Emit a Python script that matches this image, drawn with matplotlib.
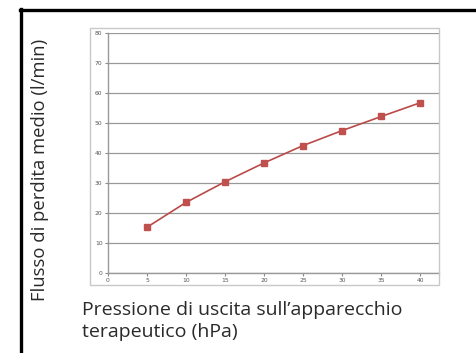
import matplotlib
matplotlib.use("Agg")
import matplotlib.pyplot as plt
from matplotlib.patches import Rectangle
from matplotlib.lines import Line2D

pressure = [5, 10, 15, 20, 25, 30, 35, 40]
leak_flow = [15.2, 23.5, 30.4, 36.7, 42.5, 47.5, 52.2, 56.8]
x_ticks = [0, 5, 10, 15, 20, 25, 30, 35, 40]
y_ticks = [0, 10, 20, 30, 40, 50, 60, 70, 80]
y_label = "Flusso di perdita medio (l/min)"
x_label = "Pressione di uscita sull\u2019apparecchio\nterapeutico (hPa)"

W, H = 477, 353
fig = plt.figure(figsize=(W / 100, H / 100), dpi=100)

def fx(px):
    return px / W

def fy(py):
    return 1 - py / H

# outer black frame (top and left)
fig.add_artist(Line2D([fx(20), fx(477)], [fy(10), fy(10)], color="black", lw=2.4, transform=fig.transFigure))
fig.add_artist(Line2D([fx(21), fx(21)], [fy(9), fy(353)], color="black", lw=2.4, transform=fig.transFigure))

# light gray chart frame
fig.add_artist(Rectangle((fx(90), fy(285)), fx(439 - 90), (285 - 28) / H, fill=False,
                         edgecolor="#c8c8c8", lw=1.0, transform=fig.transFigure))

# axes
x0, x1 = 108, 439
y0, y1 = 272.7, 33.3
ax = fig.add_axes([fx(x0), fy(y0), fx(x1 - x0), (y0 - y1) / H])
ax.set_xlim(0, 42.4)
ax.set_ylim(0, 80)
ax.set_xticks(x_ticks)
ax.set_yticks(y_ticks)
ax.tick_params(labelsize=4.3, colors="#888888", length=2.5, width=0.8, pad=1.5, labelcolor="#555555")
for s in ["top", "right"]:
    ax.spines[s].set_visible(False)
for s in ["left", "bottom"]:
    ax.spines[s].set_color("#999999")
    ax.spines[s].set_linewidth(1.0)
ax.grid(axis="y", color="#999999", lw=0.9)
ax.set_axisbelow(True)

ax.plot(pressure, leak_flow, color="#b94a48", lw=1.2, marker="s", markersize=4.5,
        markerfacecolor="#c0504d", markeredgecolor="#c0504d", clip_on=False)

fig.text(fx(40), fy(170), y_label, rotation=90, ha="center", va="center",
         fontsize=13.3, family="Open Sans", color="#2a2a2a")
fig.text(fx(82), fy(321), x_label, ha="left", va="center", fontsize=14,
         family="Open Sans", color="#2a2a2a", linespacing=1.32)

fig.savefig("out.png", dpi=100, facecolor="white")
